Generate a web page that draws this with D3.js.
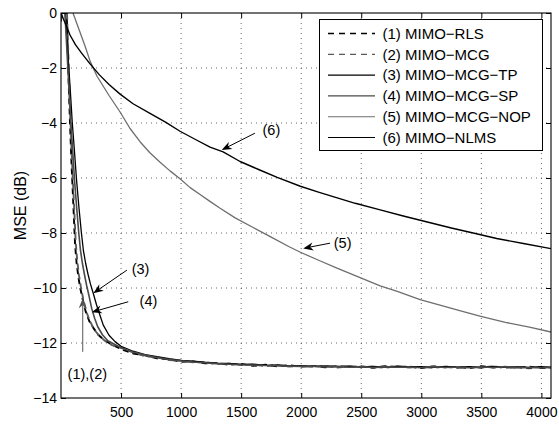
<!DOCTYPE html>
<html><head><meta charset="utf-8">
<script src="https://cdn.jsdelivr.net/npm/d3@7"></script>
<style>html,body{margin:0;padding:0;background:#fff;} svg{display:block;font-family:"Liberation Sans",Arial,Helvetica,sans-serif;}</style>
</head><body><svg id="c" width="559" height="424"></svg>
<script>
// ---------- data ----------
const xTicks = [500,1000,1500,2000,2500,3000,3500,4000];
const yTicks = [0,-2,-4,-6,-8,-10,-12,-14];
const seriesNames = ["(1) MIMO\u2212RLS","(2) MIMO\u2212MCG","(3) MIMO\u2212MCG\u2212TP","(4) MIMO\u2212MCG\u2212SP","(5) MIMO\u2212MCG\u2212NOP","(6) MIMO\u2212NLMS"];

// transient parts (iteration, MSE dB)
const rlsIterA = [0,8,20,35,47,55,65,75,85,95,105,117,130,145,158,180,205,235,269,310,360,420];
const rlsA     = [-0.3,0.5,1.2,0.9,0.1,-1.2,-2.7,-4.0,-5.2,-6.2,-7.2,-8.4,-9.1,-9.6,-9.95,-10.4,-10.85,-11.2,-11.45,-11.7,-11.9,-12.05];
const mcgIterA = [0,8,20,35,50,59,69,79,89,99,110,122,135,150,165,185,210,240,275,315,365,425];
const mcgA     = [-0.3,0.4,1.1,0.8,0.0,-1.2,-2.6,-3.9,-5.1,-6.1,-7.1,-8.3,-9.0,-9.55,-9.95,-10.4,-10.85,-11.2,-11.5,-11.72,-11.92,-12.08];
const tpIterA  = [0,6,15,25,38,50,65,80,94,110,130,150,170,186,205,225,245,269,295,325,352,400,450];
const tpA      = [-0.3,0.4,1.0,0.6,-0.2,-1.0,-2.0,-3.0,-4.0,-4.9,-6.1,-7.1,-8.0,-8.62,-9.1,-9.5,-9.85,-10.2,-10.6,-11.0,-11.35,-11.72,-11.95];
const spIterA  = [0,6,15,25,35,45,57,70,82,96,113,131,148,162,178,195,213,234,256,280,305,345,390];
const spA      = [-0.3,0.4,1.0,0.6,-0.2,-1.0,-2.0,-3.0,-4.0,-4.9,-6.1,-7.1,-8.0,-8.62,-9.1,-9.5,-9.9,-10.3,-10.75,-11.1,-11.4,-11.7,-11.92];

// steady-state parts
const tailIter = [500,600,700,800,900,1000,1100,1200,1300,1400,1500,1600,1700,1800,1900,2000,2100,2200,2300,2400,2500,2600,2700,2800,2900,3000,3100,3200,3300,3400,3500,3600,3700,3800,3900,4000,4080];
const rlsTail = [-12.22,-12.38,-12.45,-12.56,-12.59,-12.68,-12.67,-12.74,-12.73,-12.79,-12.76,-12.83,-12.79,-12.85,-12.81,-12.86,-12.83,-12.88,-12.84,-12.87,-12.85,-12.9,-12.84,-12.88,-12.86,-12.91,-12.85,-12.88,-12.87,-12.92,-12.84,-12.89,-12.87,-12.9,-12.86,-12.91,-12.89];
const mcgTail = [-12.18,-12.34,-12.48,-12.52,-12.62,-12.64,-12.7,-12.7,-12.77,-12.75,-12.8,-12.79,-12.84,-12.81,-12.86,-12.83,-12.87,-12.84,-12.89,-12.85,-12.88,-12.86,-12.9,-12.85,-12.89,-12.87,-12.9,-12.86,-12.91,-12.87,-12.89,-12.85,-12.9,-12.88,-12.92,-12.86,-12.9];
const tpTail  = [-12.12,-12.3,-12.42,-12.5,-12.57,-12.63,-12.66,-12.7,-12.73,-12.74,-12.78,-12.77,-12.81,-12.8,-12.83,-12.82,-12.85,-12.83,-12.86,-12.84,-12.87,-12.85,-12.88,-12.84,-12.87,-12.86,-12.89,-12.85,-12.88,-12.86,-12.9,-12.85,-12.88,-12.87,-12.9,-12.86,-12.89];
const spTail  = [-12.17,-12.33,-12.44,-12.53,-12.6,-12.65,-12.69,-12.72,-12.75,-12.77,-12.79,-12.8,-12.82,-12.83,-12.84,-12.85,-12.84,-12.87,-12.85,-12.88,-12.86,-12.89,-12.86,-12.88,-12.87,-12.9,-12.86,-12.89,-12.87,-12.9,-12.87,-12.89,-12.86,-12.9,-12.88,-12.91,-12.88];

const nopIter = [0,50,100,150,200,242,300,400,492,575,658,740,825,910,991,1075,1158,1240,1325,1450,1600,1750,1900,1993,2150,2298,2450,2658,2800,2990,3200,3350,3488,3700,3900,4080];
const nopY    = [1.5,0.75,0,-0.6,-1.2,-1.75,-2.3,-3.0,-3.6,-4.2,-4.68,-5.08,-5.43,-5.75,-6.03,-6.35,-6.6,-6.85,-7.1,-7.45,-7.8,-8.15,-8.5,-8.7,-9.0,-9.28,-9.55,-9.92,-10.12,-10.42,-10.68,-10.86,-11.02,-11.25,-11.42,-11.6];
const nlmsIter = [0,20,40,75,120,170,242,320,400,492,600,741,870,991,1120,1241,1350,1491,1650,1800,1993,2150,2300,2450,2658,2850,3050,3250,3450,3628,3850,4080];
const nlmsY    = [0,-0.22,-0.42,-0.8,-1.15,-1.45,-1.85,-2.25,-2.6,-2.95,-3.3,-3.65,-3.97,-4.3,-4.6,-4.88,-5.05,-5.4,-5.7,-5.98,-6.3,-6.52,-6.72,-6.92,-7.16,-7.38,-7.6,-7.82,-8.02,-8.2,-8.38,-8.57];

// annotations (text anchor point and arrow in data units)
const annotLabels = ["(1),(2)","(3)","(4)","(5)","(6)"];
const annotTextIter = [219,662,728,2345,1752];
const annotTextDb   = [-13.31,-9.49,-10.67,-8.53,-4.43];
const arrowFromIter = [181,549,560,2240,1615];
const arrowFromDb   = [-12.32,-9.35,-10.5,-8.37,-4.37];
const arrowToIter   = [181,269,256,2017,1338];
const arrowToDb     = [-10.37,-10.19,-10.88,-8.56,-4.98];

// ---------- layout ----------
const W=559,H=424,L=61,R=551,T=13,B=398;
const x=d3.scaleLinear().domain([0,4080]).range([L,R]);
const y=d3.scaleLinear().domain([0,-14]).range([T,B]);
const svg=d3.select("#c");
svg.append("rect").attr("width",W).attr("height",H).attr("fill","#fff");

// grid
const grid=svg.append("g").attr("stroke","#555").attr("stroke-width",0.9).attr("stroke-dasharray","1,4");
grid.selectAll("line.v").data(xTicks).join("line").attr("class","v")
  .attr("x1",d=>x(d)).attr("x2",d=>x(d)).attr("y1",T).attr("y2",B);
grid.selectAll("line.h").data(yTicks.filter(d=>d!==0&&d!==-14)).join("line").attr("class","h")
  .attr("x1",L).attr("x2",R).attr("y1",d=>y(d)).attr("y2",d=>y(d));

// curves
svg.append("clipPath").attr("id","clip").append("rect").attr("x",L).attr("y",T).attr("width",R-L).attr("height",B-T);
const zip=(a,b)=>a.map((v,i)=>[v,b[i]]);
const series=[
  {pts:zip(rlsIterA,rlsA).concat(zip(tailIter,rlsTail)), color:"#000", w:1.9, dash:"6,4"},
  {pts:zip(mcgIterA,mcgA).concat(zip(tailIter,mcgTail)), color:"#5a5a5a", w:1.9, dash:"6,4"},
  {pts:zip(tpIterA,tpA).concat(zip(tailIter,tpTail)), color:"#000", w:1.3, dash:null},
  {pts:zip(spIterA,spA).concat(zip(tailIter,spTail)), color:"#4a4a4a", w:1.6, dash:null},
  {pts:zip(nopIter,nopY), color:"#6e6e6e", w:1.3, dash:null},
  {pts:zip(nlmsIter,nlmsY), color:"#000", w:1.4, dash:null}
];
const line=d3.line().x(d=>x(d[0])).y(d=>y(d[1]));
const cg=svg.append("g").attr("clip-path","url(#clip)");
cg.selectAll("path").data(series).join("path")
  .attr("d",d=>line(d.pts)).attr("fill","none").attr("stroke",d=>d.color)
  .attr("stroke-width",d=>d.w).attr("stroke-dasharray",d=>d.dash).attr("stroke-linejoin","round");

// axes
const fmtY=d=>d===0?"0":"\u2212"+Math.abs(d);
const fmtX=d3.format("d");
const styleAxis=g=>{g.select(".domain").remove();g.attr("font-family",null).attr("font-size",14);g.selectAll("line").attr("stroke","#000");g.selectAll("text").attr("fill","#000");};
svg.append("g").attr("transform",`translate(0,${B})`)
  .call(d3.axisBottom(x).tickValues(xTicks).tickSizeInner(-5).tickSizeOuter(0).tickFormat(fmtX))
  .call(styleAxis).call(g=>g.selectAll("text").attr("y",19).attr("dy",null));
svg.append("g").attr("transform",`translate(0,${T})`)
  .call(d3.axisTop(x).tickValues(xTicks).tickSizeInner(-5).tickSizeOuter(0).tickFormat(""))
  .call(styleAxis);
svg.append("g").attr("transform",`translate(${L},0)`)
  .call(d3.axisLeft(y).tickValues(yTicks).tickSizeInner(-5).tickSizeOuter(0).tickPadding(4).tickFormat(fmtY))
  .call(styleAxis);
svg.append("g").attr("transform",`translate(${R},0)`)
  .call(d3.axisRight(y).tickValues(yTicks).tickSizeInner(-5).tickSizeOuter(0).tickFormat(""))
  .call(styleAxis);
svg.append("rect").attr("x",L).attr("y",T).attr("width",R-L).attr("height",B-T)
  .attr("fill","none").attr("stroke","#000").attr("stroke-width",1.1);

// y label
svg.append("text").attr("transform",`translate(20,${(T+B)/2}) rotate(-90)`)
  .attr("text-anchor","middle").attr("dy","0.35em").attr("font-size",16).text("MSE (dB)");

// annotations
const ann=svg.append("g");
annotLabels.forEach((lab,i)=>{
  const x1=x(arrowFromIter[i]),y1=y(arrowFromDb[i]),x2=x(arrowToIter[i]),y2=y(arrowToDb[i]);
  const col=i===0?"#555":"#000";
  const a=Math.atan2(y2-y1,x2-x1),ux=Math.cos(a),uy=Math.sin(a),px=-uy,py=ux;
  const len=10,half=4,back=7;
  const bx=x2-ux*len,by=y2-uy*len,nx=x2-ux*back,ny=y2-uy*back;
  ann.append("line").attr("x1",x1).attr("y1",y1).attr("x2",nx).attr("y2",ny).attr("stroke",col).attr("stroke-width",1);
  ann.append("path").attr("d",`M${x2},${y2}L${bx+px*half},${by+py*half}L${nx},${ny}L${bx-px*half},${by-py*half}Z`).attr("fill",col);
  ann.append("text").attr("x",x(annotTextIter[i])).attr("y",y(annotTextDb[i])).attr("text-anchor","middle")
    .attr("font-size",14.5).text(lab);
});

// legend
const lg=svg.append("g");
lg.append("rect").attr("x",319.5).attr("y",19.5).attr("width",223).attr("height",131).attr("fill","#fff").attr("stroke","#000").attr("stroke-width",1);
const rows=lg.selectAll("g.r").data(series).join("g").attr("class","r").attr("transform",(d,i)=>`translate(0,${33.5+i*20.8})`);
rows.append("line").attr("x1",328).attr("x2",375).attr("stroke",d=>d.color)
  .attr("stroke-width",d=>d.dash?1.3:1.1).attr("stroke-dasharray",d=>d.dash?"6,5":null);
rows.append("text").attr("x",382.5).attr("dy","0.35em").attr("font-size",15).text((d,i)=>seriesNames[i]);
</script></body></html>
